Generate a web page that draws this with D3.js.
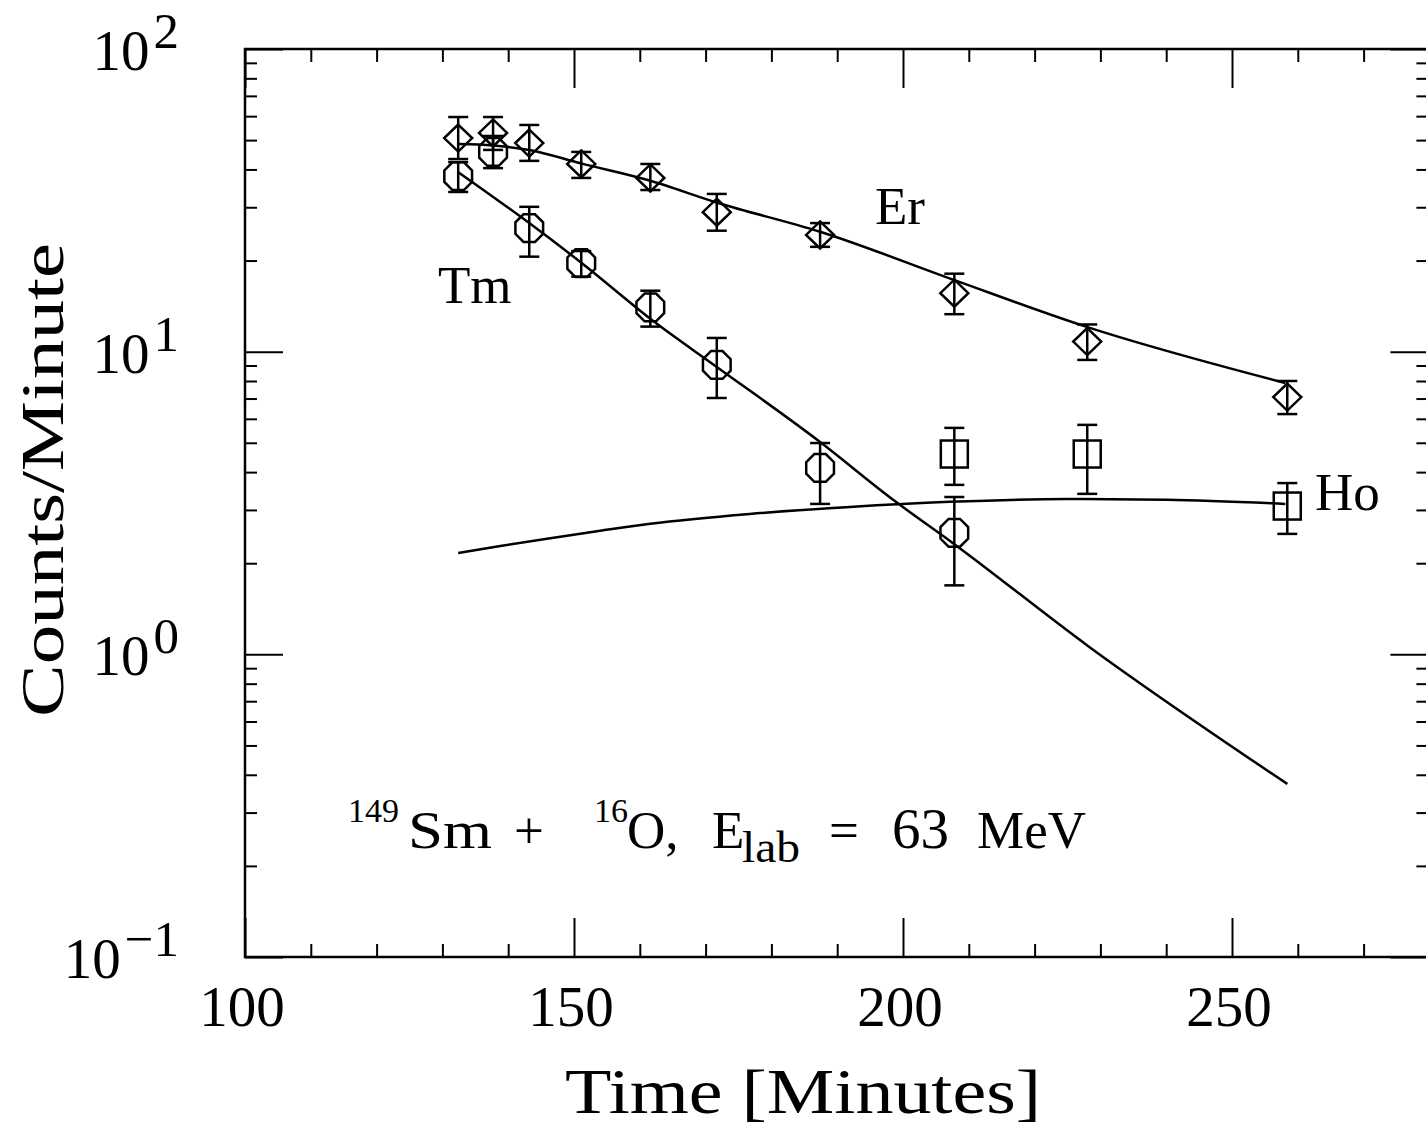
<!DOCTYPE html>
<html>
<head>
<meta charset="utf-8">
<title>Counts per Minute</title>
<script src="https://cdn.jsdelivr.net/npm/d3@7/dist/d3.min.js"></script>
<style>
body { margin: 0; background: #fff; }
text { font-family: "Liberation Serif", "Times New Roman", serif; fill: #000; }
.tick line { stroke: #000; stroke-width: 2px; }
.fit { fill: none; stroke: #000; stroke-width: 2.5px; }
.err, .mark { fill: none; stroke: #000; stroke-width: 2.5px; }
</style>
</head>
<body>
<script>
var width = 1426, height = 1128;

// measured points: time [min], counts/minute, error bar low / high
var erTime = [132.4, 137.7, 143.2, 151.1, 161.6, 171.7, 187.4, 207.8, 228.0, 258.4];
var erCounts = [50.8, 52.8, 48.9, 41.7, 37.5, 28.9, 24.3, 15.6, 10.8, 7.08];
var erLow  = [43.3, 46.4, 42.7, 37.5, 34.2, 25.1, 22.2, 13.3, 9.39, 6.22];
var erHigh = [59.6, 59.6, 56.1, 45.7, 41.7, 33.2, 26.6, 18.1, 12.3, 8.0];

var tmTime = [132.4, 137.7, 143.2, 151.1, 161.6, 171.7, 187.4, 207.8];
var tmCounts = [38.0, 45.7, 25.6, 19.6, 14.0, 9.04, 4.13, 2.52];
var tmLow  = [33.7, 40.4, 20.6, 17.7, 12.1, 7.03, 3.14, 1.69];
var tmHigh = [42.3, 51.6, 30.1, 21.5, 15.9, 11.1, 4.99, 3.31];

var hoTime = [207.8, 228.0, 258.4];
var hoCounts = [4.59, 4.59, 3.09];
var hoLow  = [3.63, 3.39, 2.50];
var hoHigh = [5.60, 5.73, 3.68];

// fitted decay curves
var erFitTime = [132.4, 137.7, 143.2, 151.2, 161.2, 171.9, 187.4, 207.6, 227.8, 258.1];
var erFitCounts = [48.5, 48.0, 46.4, 41.8, 36.9, 31.0, 24.9, 17.3, 12.1, 7.88];
var tmFitTime = [132.4, 143.2, 151.2, 162.3, 171.7, 187.4, 198.5, 207.6, 228.0, 258.4];
var tmFitCounts = [39.2, 26.6, 19.6, 12.5, 8.9, 5.03, 3.24, 2.33, 1.07, 0.373];
var hoFitTime = [132.4, 138.8, 146.4, 154.0, 161.6, 176.7, 191.9, 207.1, 224.9, 240.1, 258.1];
var hoFitCounts = [2.16, 2.28, 2.42, 2.56, 2.70, 2.91, 3.07, 3.19, 3.26, 3.24, 3.14];

var xMajor = [100, 150, 200, 250];
var yMajor = [0.1, 1, 10, 100];
var yExp = ["\u22121", "0", "1", "2"];

var svg = d3.select("body").append("svg")
  .attr("width", width).attr("height", height)
  .style("background", "white");

var x = d3.scaleLinear().domain([100, 280]).range([245, 1429.4]);
var y = d3.scaleLog().domain([0.1, 100]).range([957, 49]);

var xMinor = d3.range(100, 281, 10).filter(function(d){ return d % 50 !== 0; });
var yMinor = [];
[0.1, 1, 10].forEach(function(dec){
  for (var k = 2; k <= 9; k++) yMinor.push(dec * k);
});

function ticks(axisFn, scale, vals, size, transform) {
  svg.append("g").attr("transform", transform)
    .call(axisFn(scale).tickValues(vals).tickSize(size).tickFormat(""))
    .call(function(g){ g.select(".domain").remove(); });
}

// inward ticks on all four sides
ticks(d3.axisBottom, x, xMajor, -39, "translate(0,957)");
ticks(d3.axisBottom, x, xMinor, -13, "translate(0,957)");
ticks(d3.axisTop, x, xMajor, -39, "translate(0,49)");
ticks(d3.axisTop, x, xMinor, -13, "translate(0,49)");
ticks(d3.axisLeft, y, yMajor, -38, "translate(245,0)");
ticks(d3.axisLeft, y, yMinor, -12, "translate(245,0)");
ticks(d3.axisRight, y, yMajor, -39, "translate(1429.4,0)");
ticks(d3.axisRight, y, yMinor, -13, "translate(1429.4,0)");

// frame
svg.append("rect")
  .attr("x", 245).attr("y", 49)
  .attr("width", 1429.4 - 245).attr("height", 957 - 49)
  .attr("fill", "none").attr("stroke", "#000").attr("stroke-width", 2.5);

// x tick labels
svg.append("g").selectAll("text").data(xMajor).enter().append("text")
  .attr("x", function(d){ return x(d) - 3; })
  .attr("y", 1026)
  .attr("text-anchor", "middle")
  .attr("font-size", 57)
  .text(function(d){ return d; });

// y tick labels 10^n
var yl = svg.append("g").selectAll("text").data(yMajor).enter().append("text")
  .attr("x", 179)
  .attr("y", function(d){ return y(d) + 21; })
  .attr("text-anchor", "end")
  .attr("font-size", 57);
yl.append("tspan").text("10");
yl.append("tspan").attr("dx", 4).attr("dy", -22).attr("font-size", 51)
  .text(function(d, i){ return yExp[i]; });

// axis titles
svg.append("text")
  .attr("x", 803).attr("y", 1113)
  .attr("text-anchor", "middle")
  .attr("font-size", 64)
  .attr("textLength", 476).attr("lengthAdjust", "spacingAndGlyphs")
  .text("Time [Minutes]");

svg.append("text")
  .attr("transform", "translate(63,480) rotate(-90)")
  .attr("text-anchor", "middle")
  .attr("font-size", 61)
  .attr("textLength", 474).attr("lengthAdjust", "spacingAndGlyphs")
  .text("Counts/Minute");

// fitted curves
var line = d3.line()
  .x(function(d){ return x(d[0]); })
  .y(function(d){ return y(d[1]); })
  .curve(d3.curveMonotoneX);

[[erFitTime, erFitCounts], [tmFitTime, tmFitCounts], [hoFitTime, hoFitCounts]].forEach(function(s){
  svg.append("path").attr("class", "fit").attr("d", line(d3.zip(s[0], s[1])));
});

// error bars
function errorBars(t, lo, hi) {
  var g = svg.append("g");
  var rows = d3.zip(t, lo, hi);
  g.selectAll(".v").data(rows).enter().append("line").attr("class", "err")
    .attr("x1", function(d){ return x(d[0]); }).attr("x2", function(d){ return x(d[0]); })
    .attr("y1", function(d){ return y(d[1]); }).attr("y2", function(d){ return y(d[2]); });
  [1, 2].forEach(function(k){
    g.selectAll(".c" + k).data(rows).enter().append("line").attr("class", "err")
      .attr("x1", function(d){ return x(d[0]) - 10; }).attr("x2", function(d){ return x(d[0]) + 10; })
      .attr("y1", function(d){ return y(d[k]); }).attr("y2", function(d){ return y(d[k]); });
  });
}
errorBars(erTime, erLow, erHigh);
errorBars(tmTime, tmLow, tmHigh);
errorBars(hoTime, hoLow, hoHigh);

// markers
var octagon = d3.range(8).map(function(i){
  var a = Math.PI / 8 + i * Math.PI / 4;
  return [15 * Math.cos(a), 15 * Math.sin(a)];
});
svg.append("g").selectAll("polygon").data(d3.zip(tmTime, tmCounts)).enter().append("polygon")
  .attr("class", "mark")
  .attr("transform", function(d){ return "translate(" + x(d[0]) + "," + y(d[1]) + ")"; })
  .attr("points", octagon.join(" "));

svg.append("g").selectAll("polygon").data(d3.zip(erTime, erCounts)).enter().append("polygon")
  .attr("class", "mark")
  .attr("transform", function(d){ return "translate(" + x(d[0]) + "," + y(d[1]) + ")"; })
  .attr("points", "0,-13.5 14,0 0,13.5 -14,0");

svg.append("g").selectAll("rect").data(d3.zip(hoTime, hoCounts)).enter().append("rect")
  .attr("class", "mark")
  .attr("x", function(d){ return x(d[0]) - 13.5; })
  .attr("y", function(d){ return y(d[1]) - 13.5; })
  .attr("width", 27).attr("height", 27);

// curve labels
svg.append("text").attr("x", 875).attr("y", 224).attr("font-size", 53).text("Er");
svg.append("text").attr("x", 438).attr("y", 303).attr("font-size", 53).text("Tm");
svg.append("text").attr("x", 1315).attr("y", 510).attr("font-size", 53).text("Ho");

// reaction annotation
var note = svg.append("g").attr("font-size", 53);
note.append("text").attr("x", 348).attr("y", 822).attr("font-size", 34).text("149");
note.append("text").attr("x", 408).attr("y", 848).attr("textLength", 84).attr("lengthAdjust", "spacingAndGlyphs").text("Sm");
note.append("text").attr("x", 514).attr("y", 848).text("+");
note.append("text").attr("x", 594).attr("y", 822).attr("font-size", 34).text("16");
note.append("text").attr("x", 627).attr("y", 848).text("O,");
note.append("text").attr("x", 712).attr("y", 848).text("E");
note.append("text").attr("x", 742).attr("y", 862).attr("font-size", 44).attr("textLength", 58).attr("lengthAdjust", "spacingAndGlyphs").text("lab");
note.append("text").attr("x", 829).attr("y", 848).text("=");
note.append("text").attr("x", 892).attr("y", 848).attr("font-size", 57).text("63");
note.append("text").attr("x", 977).attr("y", 848).text("MeV");
</script>
</body>
</html>
